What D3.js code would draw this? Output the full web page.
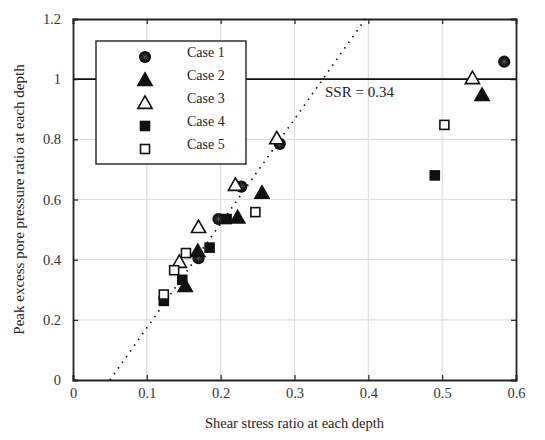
<!DOCTYPE html>
<html>
<head>
<meta charset="utf-8">
<script src="https://cdn.jsdelivr.net/npm/d3@7"></script>
<style>
  body { margin: 0; background: #fff; }
  svg text { font-family: "Times New Roman", "Liberation Serif", "DejaVu Serif", serif; fill: #222; }
</style>
</head>
<body>
<div id="chart"></div>
<script>
// data
const case1 = [[0.280, 0.785], [0.228, 0.643], [0.197, 0.535], [0.170, 0.405], [0.584, 1.058]];
const case2 = [[0.256, 0.622], [0.223, 0.540], [0.169, 0.428], [0.152, 0.312], [0.554, 0.947]];
const case3 = [[0.276, 0.803], [0.220, 0.648], [0.170, 0.508], [0.144, 0.392], [0.541, 1.003]];
const case4 = [[0.208, 0.535], [0.185, 0.440], [0.148, 0.333], [0.123, 0.263], [0.490, 0.680]];
const case5 = [[0.247, 0.558], [0.153, 0.422], [0.137, 0.365], [0.123, 0.284], [0.503, 0.848]];
const caseNames = ["Case 1", "Case 2", "Case 3", "Case 4", "Case 5"];
const xTicks = [0, 0.1, 0.2, 0.3, 0.4, 0.5, 0.6];
const yTicks = [0, 0.2, 0.4, 0.6, 0.8, 1, 1.2];
const ssrLine = [[0.05, 0], [0.396, 1.2]];
const ssr = 0.34;

const width = 545, height = 440;
const margin = {left: 73, right: 29, top: 19, bottom: 60};

var svg = d3.select("#chart").append("svg")
    .attr("width", width)
    .attr("height", height);

var x = d3.scaleLinear().domain([0, 0.6]).range([margin.left, width - margin.right]);
var y = d3.scaleLinear().domain([0, 1.2]).range([height - margin.bottom, margin.top]);

// grid
svg.append("g").selectAll("line")
    .data(xTicks.slice(1, -1))
    .enter().append("line")
    .attr("x1", d => x(d)).attr("x2", d => x(d))
    .attr("y1", y(0)).attr("y2", y(1.2))
    .style("stroke", "#dedede").style("stroke-width", 1.2);
svg.append("g").selectAll("line")
    .data(yTicks.slice(1, -1))
    .enter().append("line")
    .attr("x1", x(0)).attr("x2", x(0.6))
    .attr("y1", d => y(d)).attr("y2", d => y(d))
    .style("stroke", "#dedede").style("stroke-width", 1.2);

// axes (ticks inside)
var fmt = d => String(+d.toFixed(1));
svg.append("g")
    .attr("transform", `translate(0,${y(0)})`)
    .call(d3.axisBottom(x).tickValues(xTicks).tickSize(-5).tickPadding(8).tickFormat(fmt));
svg.append("g")
    .attr("transform", `translate(${x(0)},0)`)
    .call(d3.axisLeft(y).tickValues(yTicks).tickSize(-5).tickPadding(12).tickFormat(fmt));
svg.append("g")
    .attr("transform", `translate(0,${y(1.2)})`)
    .call(d3.axisTop(x).tickValues(xTicks).tickSize(-5).tickFormat(""));
svg.append("g")
    .attr("transform", `translate(${x(0.6)},0)`)
    .call(d3.axisRight(y).tickValues(yTicks).tickSize(-5).tickFormat(""));

svg.selectAll(".domain").style("stroke", "#222").style("stroke-width", 1.8);
svg.selectAll(".tick line").style("stroke", "#222").style("stroke-width", 1.2);
svg.selectAll(".tick text")
    .style("font-size", "14.5px")
    .style("fill", "#333");

// SSR = 1 line
svg.append("line")
    .attr("x1", x(0)).attr("x2", x(0.6))
    .attr("y1", y(1)).attr("y2", y(1))
    .style("stroke", "#111").style("stroke-width", 1.6);

// dotted trend line
svg.append("line")
    .attr("x1", x(ssrLine[0][0])).attr("y1", y(ssrLine[0][1]))
    .attr("x2", x(ssrLine[1][0])).attr("y2", y(ssrLine[1][1]))
    .style("stroke", "#111").style("stroke-width", 1.7)
    .style("stroke-dasharray", "1.5,5.5");

svg.append("text")
    .attr("x", x(ssr) + 1).attr("y", y(1) + 18)
    .style("font-size", "15px")
    .text("SSR = " + ssr);

// markers
function drawMarker(g, type, cx, cy) {
  if (type === 0) {
    g.append("circle").attr("cx", cx).attr("cy", cy).attr("r", 6.1)
      .style("fill", "#111");
    for (var a = 0; a < 4; a++) {
      var ang = a * Math.PI / 4;
      g.append("line")
        .attr("x1", cx - 4 * Math.cos(ang)).attr("y1", cy - 4 * Math.sin(ang))
        .attr("x2", cx + 4 * Math.cos(ang)).attr("y2", cy + 4 * Math.sin(ang))
        .style("stroke", "#666").style("stroke-width", 0.6);
    }
  } else if (type === 1 || type === 2) {
    var s = 7.1;
    g.append("path")
      .attr("d", `M${cx},${cy - s}L${cx + s},${cy + s * 0.75}L${cx - s},${cy + s * 0.75}Z`)
      .style("fill", type === 1 ? "#111" : "#fff")
      .style("stroke", "#111").style("stroke-width", 1.6);
  } else {
    var h = 4.5;
    g.append("rect")
      .attr("x", cx - h).attr("y", cy - h).attr("width", 2 * h).attr("height", 2 * h)
      .style("fill", type === 3 ? "#111" : "#fff")
      .style("stroke", "#111").style("stroke-width", 1.6);
  }
}

var allCases = [case1, case2, case3, case4, case5];
var pts = svg.append("g");
allCases.forEach(function(data, i) {
  data.forEach(function(d) { drawMarker(pts, i, x(d[0]), y(d[1])); });
});

// legend
var leg = svg.append("g");
leg.append("rect")
    .attr("x", 96).attr("y", 41).attr("width", 150).attr("height", 123)
    .style("fill", "#fff").style("stroke", "#222").style("stroke-width", 1.4);
caseNames.forEach(function(name, i) {
  var ry = 52 + i * 23;
  drawMarker(leg, i, 145, ry + 5);
  leg.append("text")
    .attr("x", 187).attr("y", ry + 5)
    .style("font-size", "14px")
    .text(name);
});

// axis labels
svg.append("text")
    .attr("x", (x(0) + x(0.6)) / 2).attr("y", 428)
    .attr("text-anchor", "middle")
    .style("font-size", "14.5px")
    .text("Shear stress ratio at each depth");
svg.append("text")
    .attr("transform", `translate(24,${(y(0) + y(1.2)) / 2}) rotate(-90)`)
    .attr("text-anchor", "middle")
    .style("font-size", "15px")
    .text("Peak excess pore pressure ratio at each depth");
</script>
</body>
</html>
